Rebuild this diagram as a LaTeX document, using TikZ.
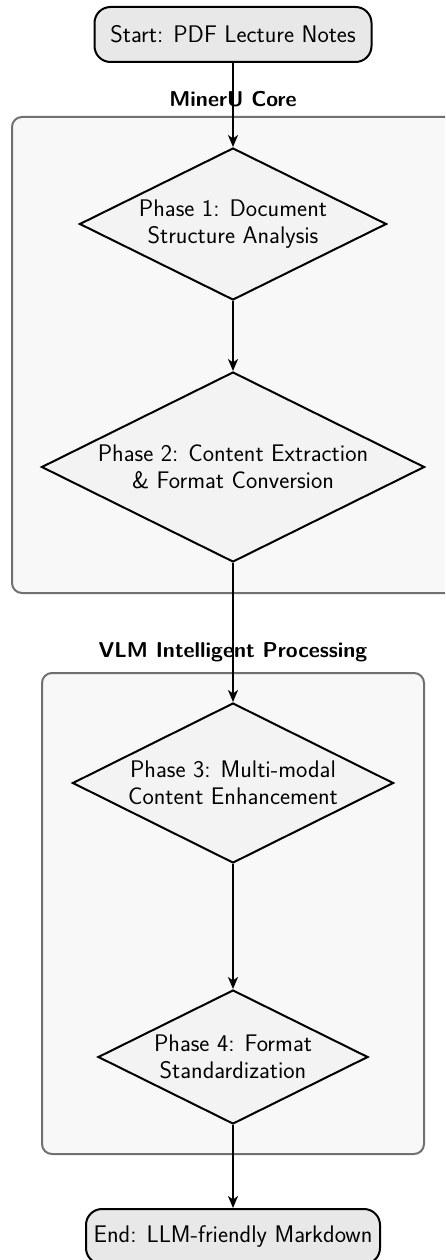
\documentclass[tikz,border=0pt]{standalone}
\usetikzlibrary{shapes.geometric,arrows.meta}
\definecolor{termfill}{HTML}{E8E8E8}
\definecolor{phasefill}{HTML}{F3F3F3}
\definecolor{groupfill}{HTML}{F8F8F8}
\definecolor{groupline}{HTML}{707070}
\begin{document}
\begin{tikzpicture}[x=1pt,y=-1pt,
  every node/.style={font=\sffamily\fontsize{24}{27}\selectfont},
  term/.style={draw, line width=2pt, fill=termfill, rounded corners=16pt, minimum height=55pt, inner sep=0pt, align=center},
  phase/.style={draw, line width=2pt, fill=phasefill, shape=diamond, aspect=2, inner sep=0pt, align=center},
  grp/.style={draw=groupline, line width=2pt, fill=groupfill, rounded corners=10pt},
  grplabel/.style={font=\sffamily\bfseries\fontsize{21.5}{26.5}\selectfont},
  flow/.style={line width=2pt, -{Stealth[length=12pt,width=10pt,inset=3.5pt]}}
]
\useasboundingbox (0,0) rectangle (445,1260);
\clip (0,0) rectangle (445,1260);
\fill[white] (0,0) rectangle (445,1260);
% groups
\draw[grp] (12,117) rectangle (475,593);
\node[grplabel] (g1) at (233,99) {MinerU Core};
\draw[grp] (42,673) rectangle (424,1154);
\node[grplabel] (g2) at (233,652) {VLM Intelligent Processing};
% nodes
\node[term, minimum width=277pt] (start) at (233,34.5) {Start: PDF Lecture Notes};
\node[phase, minimum width=307pt, minimum height=152pt] (p1) at (233,224) {Phase 1: Document\\Structure Analysis};
\node[phase, minimum width=383pt, minimum height=190pt] (p2) at (233,467) {Phase 2: Content Extraction\\\& Format Conversion};
\node[phase, minimum width=321pt, minimum height=160pt] (p3) at (233,783) {Phase 3: Multi-modal\\Content Enhancement};
\node[phase, minimum width=270pt, minimum height=134pt] (p4) at (233,1057) {Phase 4: Format\\Standardization};
\node[term, minimum width=294pt] (end) at (233,1236.5) {End: LLM-friendly Markdown};
% connectors
\draw[flow] (start) -- (p1);
\draw[flow] (p1) -- (p2);
\draw[flow] (p2) -- (p3);
\draw[flow] (p3) -- (p4);
\draw[flow] (p4) -- (end);
\end{tikzpicture}
\end{document}
